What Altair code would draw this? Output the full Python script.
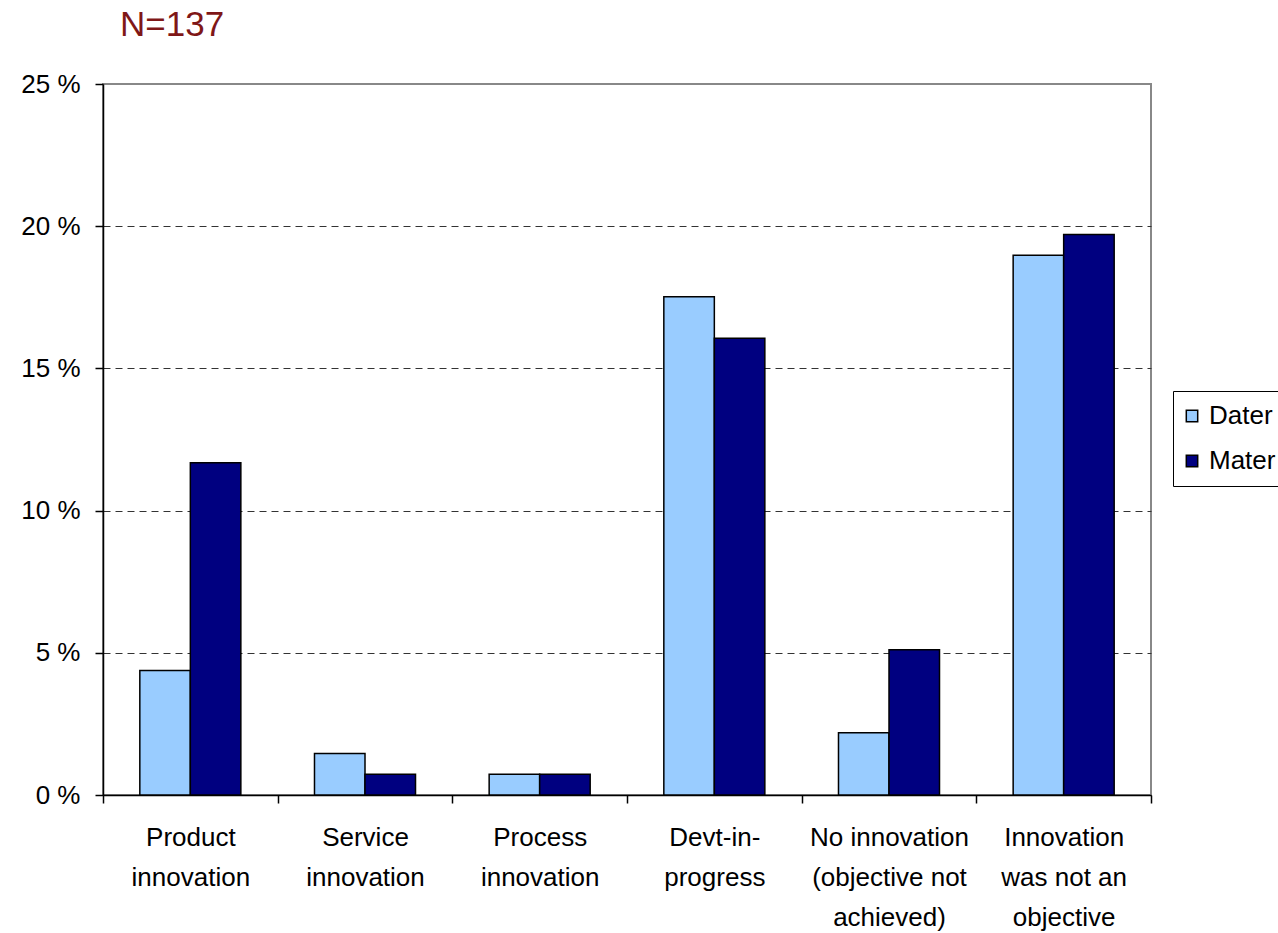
import altair as alt
import pandas as pd

# ---- data ----
categories = [
    "Product\ninnovation",
    "Service\ninnovation",
    "Process\ninnovation",
    "Devt-in-\nprogress",
    "No innovation\n(objective not\nachieved)",
    "Innovation\nwas not an\nobjective",
]
series = ["Dater", "Mater"]
dater_values = [4.38, 1.46, 0.73, 17.52, 2.19, 18.98]
mater_values = [11.68, 0.73, 0.73, 16.06, 5.11, 19.71]
y_ticks = [0, 5, 10, 15, 20, 25]
colors = ["#99CCFF", "#000080"]
title_text = "N=137"

rows = []
for c, d, m in zip(categories, dater_values, mater_values):
    rows.append({"category": c, "series": series[0], "value": d})
    rows.append({"category": c, "series": series[1], "value": m})
df = pd.DataFrame(rows)

FONT = "Liberation Sans"

chart = (
    alt.Chart(df)
    .mark_bar(stroke="black", strokeWidth=1.5)
    .encode(
        x=alt.X(
            "category:N",
            sort=categories,
            scale=alt.Scale(paddingInner=0, paddingOuter=0),
            axis=alt.Axis(
                title=None,
                labelAngle=0,
                labelExpr="split(datum.label, '\\n')",
                tickBand="extent",
                labelLineHeight=40,
                labelPadding=21,
                labelBaseline="top",
                grid=False,
            ),
        ),
        xOffset=alt.XOffset(
            "series:N",
            sort=series,
            scale=alt.Scale(paddingInner=0, paddingOuter=0.729),
        ),
        y=alt.Y(
            "value:Q",
            scale=alt.Scale(domain=[0, 25], nice=False),
            axis=alt.Axis(
                title=None,
                values=y_ticks,
                labelExpr="datum.value + ' %'",
                labelPadding=15,
                grid=True,
                gridColor="#333333",
                gridDash=[7, 5],
                gridWidth=1,
                gridOpacity=alt.condition("datum.value >= 25", alt.value(0), alt.value(1)),
            ),
        ),
        color=alt.Color(
            "series:N",
            sort=series,
            scale=alt.Scale(domain=series, range=colors),
            legend=alt.Legend(
                title=None,
                orient="none",
                legendX=1070,
                legendY=307,
                direction="vertical",
                symbolType="square",
                symbolSize=130,
                symbolStrokeColor="black",
                symbolStrokeWidth=1.5,
                symbolOffset=-6,
                labelFont=FONT,
                labelFontSize=26,
                labelColor="black",
                labelOffset=4,
                rowPadding=19,
                padding=12,
                strokeColor="black",
                fillColor="white",
            ),
        ),
    )
    .properties(
        width=1048,
        height=711,
        padding={"left": 103, "top": 84, "right": 127, "bottom": 138},
        autosize=alt.AutoSizeParams(type="none"),
        background="white",
        title=alt.TitleParams(
            title_text,
            anchor="start",
            frame="group",
            dx=17,
            fontSize=35,
            font=FONT,
            fontWeight="normal",
            color="#7F1717",
            baseline="alphabetic",
            offset=0,
        ),
    )
    .configure_view(stroke="#888888", strokeWidth=2)
    .configure_axis(
        domainColor="black",
        domainWidth=1.5,
        tickColor="black",
        tickWidth=1.5,
        tickSize=8,
        labelFont=FONT,
        labelFontSize=26,
        labelColor="black",
    )
)

chart.save("out.html", embed_options={"renderer": "svg", "actions": False})
